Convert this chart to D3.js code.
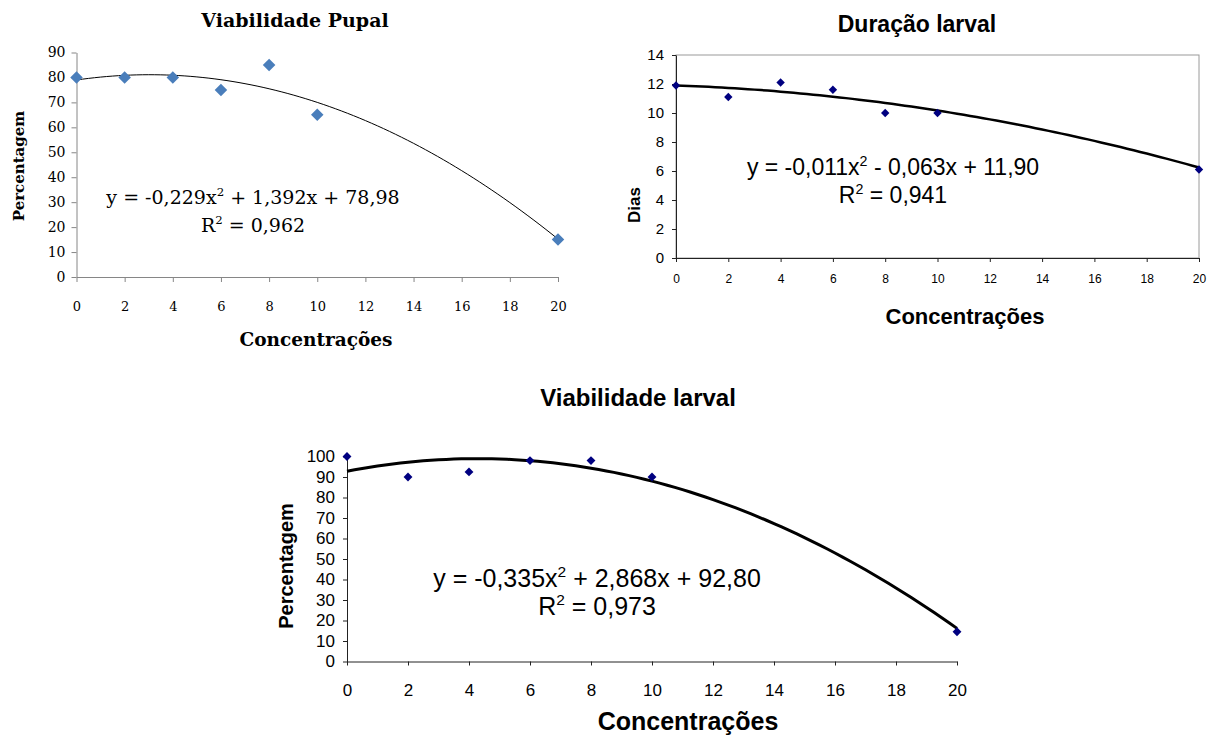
<!DOCTYPE html>
<meta charset="utf-8">
<style>
body { margin: 0; background: #fff; }
svg { display: block; }
.serif text { font-family: "DejaVu Serif", serif; }
.sans text { font-family: "Liberation Sans", Arial, sans-serif; }
.domain { fill: none; }
</style>
<body>
<svg width="1210" height="737"></svg>
<script src="https://cdn.jsdelivr.net/npm/d3@7"></script>
<script>

// concentrations (x) shared by all three charts
var conc = [0, 2, 4, 6, 8, 10, 20];
var xTicks = [0, 2, 4, 6, 8, 10, 12, 14, 16, 18, 20];

// Viabilidade Pupal
var pupalViab = [80, 80, 80, 75, 85, 65, 15];
var pupalFit = [-0.229, 1.392, 78.98];
var pupalTicks = [0, 10, 20, 30, 40, 50, 60, 70, 80, 90];

// Duração larval
var larvalDur = [11.9, 11.1, 12.1, 11.6, 10, 10, 6.1];
var durFit = [-0.011, -0.063, 11.90];
var durTicks = [0, 2, 4, 6, 8, 10, 12, 14];

// Viabilidade larval
var larvalViab = [100, 90, 92.5, 98, 98, 90, 14.5];
var viabFit = [-0.335, 2.868, 92.80];
var viabTicks = [0, 10, 20, 30, 40, 50, 60, 70, 80, 90, 100];

var svg = d3.select("svg");
var diamond = d3.symbol().type(d3.symbolDiamond2);

function trend(c) {
  // points along the fitted trendline, from the printed coefficients
  return d3.range(0, 20.01, 0.25).map(function(x) {
    return [x, c[0] * x * x + c[1] * x + c[2]];
  });
}

function chart(o) {
  var g = svg.append("g").attr("class", o.cls);
  var x = d3.scaleLinear().domain([0, 20]).range([o.left, o.right]);
  var y = d3.scaleLinear().domain([0, o.ymax]).range([o.bottom, o.top]);

  if (o.box) {
    g.append("rect")
        .attr("x", o.left).attr("y", o.top)
        .attr("width", o.right - o.left).attr("height", o.bottom - o.top)
        .attr("fill", "none").attr("stroke", "#9a9a9a");
  }

  var ax = g.append("g")
      .attr("transform", "translate(0," + o.bottom + ")")
      .call(d3.axisBottom(x).tickValues(xTicks).tickSize(o.tick).tickPadding(o.xpad).tickSizeOuter(0));
  var ay = g.append("g")
      .attr("transform", "translate(" + o.left + ",0)")
      .call(d3.axisLeft(y).tickValues(o.yticks).tickSize(o.tick).tickPadding(o.ypad).tickSizeOuter(0));

  [ax, ay].forEach(function(a) {
    a.select(".domain").attr("stroke", o.axis);
    a.selectAll(".tick line").attr("stroke", o.axis);
    a.selectAll("text").attr("fill", "#000").attr("font-family", null);
  });
  ax.selectAll("text").style("font-size", o.xfs + "px");
  ay.selectAll("text").style("font-size", o.yfs + "px");
  ax.attr("font-size", null);
  ay.attr("font-size", null);

  g.append("path")
      .datum(trend(o.fit))
      .attr("fill", "none")
      .attr("stroke", "#000")
      .attr("stroke-width", o.lw)
      .attr("d", d3.line().x(function(d) { return x(d[0]); }).y(function(d) { return y(d[1]); }));

  g.selectAll(".pt")
    .data(conc.map(function(c, i) { return [c, o.values[i]]; }))
    .enter().append("path")
      .attr("class", "pt")
      .attr("transform", function(d) { return "translate(" + x(d[0]) + "," + y(d[1]) + ")"; })
      .attr("d", diamond.size(o.msize))
      .attr("fill", o.mcolor);

  g.append("text")
      .attr("x", o.title[1]).attr("y", o.title[2])
      .attr("text-anchor", "middle")
      .style("font-size", o.title[3] + "px")
      .style("font-weight", "bold")
      .text(o.title[0]);

  g.append("text")
      .attr("x", o.xlab[1]).attr("y", o.xlab[2])
      .attr("text-anchor", "middle")
      .style("font-size", o.xlab[3] + "px")
      .style("font-weight", "bold")
      .text(o.xlab[0]);

  g.append("text")
      .attr("transform", "translate(" + o.ylab[1] + "," + o.ylab[2] + ") rotate(-90)")
      .attr("text-anchor", "middle")
      .style("font-size", o.ylab[3] + "px")
      .style("font-weight", "bold")
      .text(o.ylab[0]);

  var eq = g.append("text")
      .attr("x", o.eq[0]).attr("y", o.eq[1])
      .attr("text-anchor", "middle")
      .style("font-size", o.eq[2] + "px");
  eq.append("tspan").text(o.eqText[0]);
  eq.append("tspan").attr("dy", -o.eq[2] * 0.4).style("font-size", (o.eq[2] * 0.62) + "px").text("2");
  eq.append("tspan").attr("dy", o.eq[2] * 0.4).text(o.eqText[1]);

  var r2 = g.append("text")
      .attr("x", o.eq[0]).attr("y", o.eq[1] + o.eq[3])
      .attr("text-anchor", "middle")
      .style("font-size", o.eq[2] + "px");
  r2.append("tspan").text("R");
  r2.append("tspan").attr("dy", -o.eq[2] * 0.4).style("font-size", (o.eq[2] * 0.62) + "px").text("2");
  r2.append("tspan").attr("dy", o.eq[2] * 0.4).text(" = " + o.eqText[2]);
}

chart({
  cls: "serif", left: 76.5, right: 558, top: 52.5, bottom: 277, ymax: 90,
  yticks: pupalTicks, values: pupalViab, fit: pupalFit,
  axis: "#868686", tick: 5, xpad: 20, ypad: 6, xfs: 13, yfs: 14,
  lw: 1, msize: 100, mcolor: "#4a7ebb", box: false,
  title: ["Viabilidade Pupal", 295, 27, 19],
  xlab: ["Concentrações", 316, 346, 18.5],
  ylab: ["Percentagem", 24, 166, 15],
  eq: [253, 204, 19, 28], eqText: ["y = -0,229x", " + 1,392x + 78,98", "0,962"]
});

chart({
  cls: "sans", left: 676, right: 1199, top: 55, bottom: 258, ymax: 14,
  yticks: durTicks, values: larvalDur, fit: durFit,
  axis: "#222", tick: 4, xpad: 12, ypad: 8, xfs: 12, yfs: 15,
  lw: 2.5, msize: 45, mcolor: "#000080", box: true,
  title: ["Duração larval", 917, 32, 23],
  xlab: ["Concentrações", 965, 324, 22],
  ylab: ["Dias", 640, 205, 17],
  eq: [893, 175, 23, 28], eqText: ["y = -0,011x", " - 0,063x + 11,90", "0,941"]
});

chart({
  cls: "sans", left: 347, right: 957, top: 456.5, bottom: 661.5, ymax: 100,
  yticks: viabTicks, values: larvalViab, fit: viabFit,
  axis: "#222", tick: 4, xpad: 18, ypad: 8, xfs: 17, yfs: 17,
  lw: 3, msize: 50, mcolor: "#000080", box: false,
  title: ["Viabilidade larval", 638, 406, 24],
  xlab: ["Concentrações", 688, 730, 25],
  ylab: ["Percentagem", 293, 566, 20],
  eq: [597, 587, 25, 28], eqText: ["y = -0,335x", " + 2,868x + 92,80", "0,973"]
});

</script>
</body>
